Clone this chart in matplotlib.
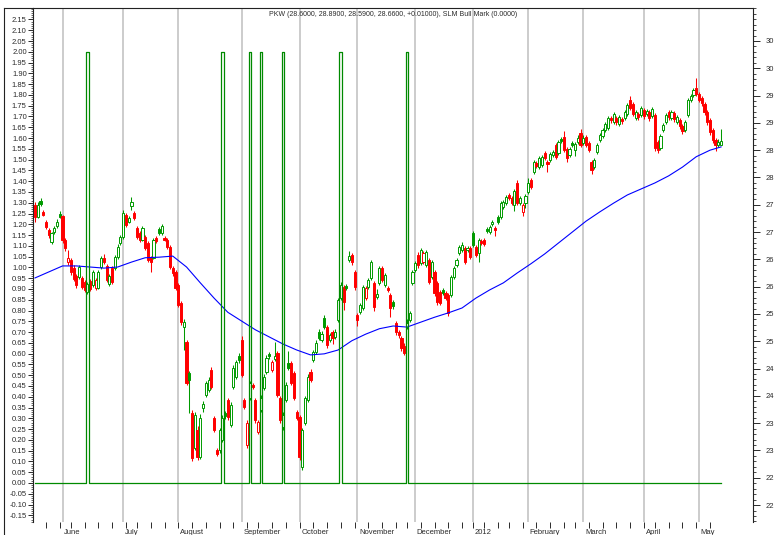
import matplotlib
matplotlib.use('Agg')
import matplotlib.pyplot as plt
import numpy as np
import pandas as pd
from matplotlib.lines import Line2D
from matplotlib.collections import LineCollection
from matplotlib.ticker import MultipleLocator, FixedLocator, FixedFormatter, NullFormatter
import matplotlib.transforms as mtransforms

plt.rcParams['font.family'] = ['Liberation Sans', 'DejaVu Sans']

# ---------------- data ----------------
start_date = '2011-05-17'
end_date = '2012-05-11'
holidays = ['2011-05-30', '2011-07-04', '2011-09-05', '2011-11-24', '2011-12-26',
            '2012-01-02', '2012-01-16', '2012-02-20', '2012-04-06']

opens = [
    27.50, 27.28, 27.57, 27.37, 27.19, 27.04, 26.82, 27.00, 27.11, 27.33,
    27.29, 26.86, 26.45, 26.49, 26.34, 26.20, 26.18, 26.16, 26.09, 25.90,
    26.10, 26.03, 25.98, 25.98, 26.36, 26.53, 26.38, 26.05, 26.34, 26.34,
    26.54, 26.80, 26.91, 27.31, 27.19, 27.48, 27.35, 27.08, 26.98, 26.86,
    26.91, 26.80, 26.54, 26.53, 26.89, 27.06, 26.98, 26.89, 26.86, 26.73,
    26.34, 26.27, 26.03, 25.70, 25.26, 24.99, 24.42, 23.69, 23.05, 23.38,
    22.88, 23.78, 24.02, 24.11, 24.47, 23.60, 23.01, 23.01, 23.19, 23.69,
    23.92, 23.47, 24.16, 24.35, 24.73, 25.02, 23.92, 23.10, 23.96, 24.20,
    23.92, 23.34, 23.74, 24.14, 24.44, 24.77, 24.47, 24.68, 24.79, 23.96,
    23.43, 23.92, 24.60, 24.60, 24.42, 23.70, 23.61, 22.70, 23.50, 23.92,
    24.44, 24.66, 24.80, 25.17, 25.02, 25.43, 25.26, 25.02, 25.17, 25.08,
    25.39, 25.79, 25.99, 26.01, 26.49, 26.58, 26.27, 25.48, 25.54, 25.61,
    25.79, 25.99, 26.16, 26.07, 25.81, 26.07, 26.34, 26.03, 25.98, 25.85,
    25.72, 25.34, 25.17, 25.06, 24.92, 25.26, 25.39, 26.07, 26.30, 26.58,
    26.43, 26.45, 26.40, 26.49, 26.18, 26.27, 26.07, 25.90, 25.94, 25.88,
    25.85, 25.85, 26.18, 26.40, 26.62, 26.67, 26.71, 26.67, 26.71, 26.98,
    26.73, 26.62, 26.84, 26.86, 27.06, 27.00, 27.15, 27.08, 27.28, 27.28,
    27.46, 27.53, 27.68, 27.62, 27.50, 27.90, 27.53, 27.37, 27.53, 27.73,
    27.95, 28.10, 28.27, 28.19, 28.23, 28.45, 28.28, 28.32, 28.41, 28.60,
    28.45, 28.71, 28.74, 28.52, 28.41, 28.63, 28.50, 28.65, 28.82, 28.63,
    28.74, 28.63, 28.28, 28.19, 28.47, 28.69, 28.76, 28.87, 28.91, 29.09,
    29.02, 29.09, 28.98, 29.07, 29.09, 29.16, 29.42, 29.35, 29.09, 29.16,
    29.14, 29.24, 29.16, 29.20, 29.13, 29.14, 28.65, 28.54, 28.87, 29.02,
    29.20, 29.09, 29.18, 29.02, 29.05, 28.94, 28.87, 29.14, 29.42, 29.51,
    29.64, 29.53, 29.46, 29.35, 29.20, 29.05, 28.87, 28.69, 28.60, 28.60,
]
highs = [
    27.55, 27.55, 27.62, 27.40, 27.22, 27.08, 27.01, 27.12, 27.24, 27.38,
    27.31, 26.90, 26.68, 26.52, 26.40, 26.24, 26.40, 26.20, 26.12, 26.08,
    26.14, 26.30, 26.16, 26.30, 26.57, 26.60, 26.42, 26.24, 26.38, 26.58,
    26.78, 26.95, 27.40, 27.35, 27.30, 27.64, 27.38, 27.12, 27.02, 27.12,
    26.94, 26.83, 26.57, 26.90, 26.93, 27.10, 27.15, 26.92, 26.89, 26.77,
    26.38, 26.31, 26.06, 25.74, 25.40, 25.03, 24.46, 23.74, 23.70, 23.44,
    23.66, 23.90, 24.28, 24.34, 24.52, 23.64, 23.05, 23.42, 23.65, 23.73,
    23.96, 23.88, 24.56, 24.66, 24.78, 25.10, 23.96, 23.55, 24.28, 24.24,
    23.96, 23.56, 24.01, 24.40, 24.74, 24.80, 24.66, 24.98, 24.83, 24.00,
    23.70, 24.25, 24.82, 24.64, 24.46, 23.74, 23.65, 23.42, 24.00, 24.40,
    24.50, 24.84, 25.02, 25.22, 25.18, 25.48, 25.30, 25.16, 25.20, 25.22,
    25.80, 26.08, 26.03, 26.05, 26.66, 26.62, 26.31, 25.52, 25.70, 26.03,
    26.02, 26.16, 26.49, 26.11, 25.95, 26.38, 26.38, 26.25, 26.02, 25.89,
    25.76, 25.38, 25.21, 25.10, 24.96, 25.40, 25.56, 26.31, 26.47, 26.64,
    26.71, 26.66, 26.68, 26.53, 26.49, 26.31, 26.11, 25.94, 25.98, 25.92,
    25.89, 26.22, 26.38, 26.53, 26.77, 26.82, 26.75, 26.75, 26.75, 27.02,
    26.77, 26.90, 26.88, 26.90, 27.10, 27.13, 27.23, 27.12, 27.32, 27.57,
    27.59, 27.68, 27.72, 27.66, 27.79, 27.95, 27.66, 27.54, 27.70, 27.99,
    27.99, 28.32, 28.31, 28.40, 28.42, 28.49, 28.32, 28.47, 28.51, 28.64,
    28.69, 28.75, 28.86, 28.56, 28.56, 28.67, 28.65, 28.77, 28.88, 28.77,
    28.78, 28.67, 28.32, 28.36, 28.64, 28.82, 28.91, 29.02, 29.13, 29.13,
    29.20, 29.13, 29.15, 29.11, 29.24, 29.37, 29.50, 29.39, 29.24, 29.20,
    29.31, 29.28, 29.26, 29.24, 29.29, 29.18, 28.69, 28.80, 29.00, 29.18,
    29.24, 29.24, 29.22, 29.15, 29.09, 28.98, 29.06, 29.46, 29.53, 29.64,
    29.82, 29.57, 29.50, 29.39, 29.24, 29.09, 28.91, 28.73, 28.70, 28.89,
]
lows = [
    27.19, 27.25, 27.48, 27.29, 27.05, 26.90, 26.78, 26.97, 27.08, 27.25,
    26.80, 26.66, 26.40, 26.22, 26.10, 25.98, 26.14, 25.95, 25.90, 25.86,
    25.92, 25.99, 25.94, 25.95, 26.33, 26.42, 26.08, 26.01, 26.05, 26.30,
    26.50, 26.77, 26.88, 27.10, 27.16, 27.40, 27.22, 26.88, 26.82, 26.83,
    26.67, 26.45, 26.27, 26.50, 26.80, 26.95, 26.95, 26.83, 26.69, 26.32,
    26.20, 25.93, 25.62, 25.30, 24.84, 24.20, 23.69, 22.80, 23.00, 22.82,
    22.84, 23.70, 23.98, 24.07, 24.12, 23.33, 22.90, 22.96, 23.15, 23.58,
    23.56, 23.43, 24.12, 24.31, 24.60, 24.34, 23.76, 23.05, 23.92, 24.12,
    23.50, 23.30, 23.70, 24.10, 24.40, 24.68, 24.43, 24.64, 23.98, 23.50,
    23.38, 23.88, 24.47, 24.20, 23.92, 23.55, 22.82, 22.64, 23.46, 23.88,
    24.25, 24.62, 24.76, 25.02, 24.98, 25.22, 24.88, 24.98, 24.95, 25.04,
    25.35, 25.75, 25.58, 25.94, 26.45, 26.40, 25.94, 25.28, 25.50, 25.57,
    25.75, 25.95, 26.12, 25.55, 25.77, 26.03, 26.08, 25.99, 25.90, 25.45,
    25.60, 25.12, 25.06, 24.83, 24.74, 25.22, 25.35, 26.03, 26.26, 26.35,
    26.39, 26.41, 26.36, 26.04, 26.14, 25.83, 25.67, 25.66, 25.84, 25.75,
    25.47, 25.81, 26.14, 26.36, 26.58, 26.63, 26.41, 26.63, 26.50, 26.72,
    26.54, 26.45, 26.76, 26.74, 26.98, 26.96, 27.11, 26.92, 27.15, 27.24,
    27.42, 27.49, 27.58, 27.49, 27.38, 27.49, 27.49, 27.30, 27.44, 27.70,
    27.79, 28.06, 28.17, 28.15, 28.19, 28.32, 28.10, 28.28, 28.37, 28.34,
    28.41, 28.63, 28.46, 28.28, 28.37, 28.56, 28.40, 28.61, 28.56, 28.59,
    28.56, 28.46, 28.06, 28.15, 28.43, 28.65, 28.72, 28.83, 28.87, 29.00,
    28.98, 28.97, 28.94, 28.98, 29.05, 29.12, 29.23, 29.12, 29.05, 29.06,
    29.10, 29.08, 29.12, 29.04, 29.09, 28.48, 28.45, 28.50, 28.83, 28.98,
    29.06, 29.05, 29.02, 28.98, 28.89, 28.80, 28.83, 29.10, 29.38, 29.47,
    29.49, 29.38, 29.31, 29.15, 28.97, 28.78, 28.64, 28.48, 28.56, 28.59,
]
closes = [
    27.28, 27.50, 27.51, 27.31, 27.09, 26.95, 26.98, 27.08, 27.19, 27.28,
    26.86, 26.71, 26.53, 26.27, 26.14, 26.03, 26.36, 25.99, 25.94, 26.05,
    25.96, 26.27, 26.12, 26.27, 26.53, 26.45, 26.12, 26.20, 26.09, 26.54,
    26.73, 26.91, 27.35, 27.13, 27.26, 27.55, 27.26, 26.91, 26.86, 27.08,
    26.71, 26.49, 26.45, 26.86, 26.84, 26.98, 27.11, 26.86, 26.73, 26.36,
    26.25, 25.98, 25.66, 25.35, 25.35, 24.24, 24.29, 22.86, 23.65, 22.88,
    23.60, 23.85, 24.24, 24.29, 24.16, 23.38, 22.94, 23.38, 23.60, 23.63,
    23.61, 23.83, 24.51, 24.62, 24.66, 24.38, 23.80, 23.50, 24.24, 24.16,
    23.56, 23.52, 23.97, 24.35, 24.69, 24.73, 24.62, 24.73, 24.02, 23.56,
    23.65, 24.20, 24.51, 24.24, 23.96, 23.60, 22.88, 23.38, 23.96, 24.35,
    24.29, 24.80, 24.97, 25.06, 25.13, 25.26, 24.93, 25.11, 25.06, 25.17,
    25.76, 26.03, 25.72, 25.98, 26.56, 26.45, 25.99, 25.39, 25.66, 25.99,
    25.98, 26.12, 26.45, 25.63, 25.87, 26.34, 26.12, 26.21, 25.94, 25.61,
    25.65, 25.17, 25.11, 24.88, 24.79, 25.34, 25.52, 26.27, 26.43, 26.40,
    26.67, 26.62, 26.64, 26.09, 26.45, 25.88, 25.72, 25.70, 25.88, 25.79,
    25.52, 26.18, 26.34, 26.49, 26.73, 26.76, 26.45, 26.71, 26.54, 26.76,
    26.58, 26.86, 26.80, 26.78, 27.02, 27.09, 27.19, 27.04, 27.19, 27.53,
    27.55, 27.64, 27.62, 27.53, 27.75, 27.53, 27.62, 27.50, 27.66, 27.90,
    27.83, 28.28, 28.21, 28.36, 28.38, 28.36, 28.25, 28.43, 28.47, 28.38,
    28.65, 28.67, 28.50, 28.36, 28.52, 28.60, 28.61, 28.73, 28.60, 28.73,
    28.60, 28.50, 28.14, 28.32, 28.60, 28.78, 28.87, 28.98, 29.09, 29.05,
    29.16, 29.02, 29.11, 29.03, 29.20, 29.33, 29.27, 29.16, 29.20, 29.11,
    29.27, 29.13, 29.22, 29.09, 29.25, 28.54, 28.50, 28.76, 28.96, 29.14,
    29.11, 29.20, 29.07, 29.11, 28.94, 28.85, 29.02, 29.42, 29.49, 29.60,
    29.53, 29.42, 29.36, 29.20, 29.02, 28.83, 28.69, 28.60, 28.65, 28.66,
]

ma_days = [0, 5, 10, 15, 20, 25, 30, 35, 40, 45, 50, 55, 60, 65, 70, 75, 80, 85,
           90, 95, 100, 105, 110, 115, 120, 125, 130, 135, 140, 145, 150, 155,
           160, 165, 170, 175, 180, 185, 190, 195, 200, 205, 210, 215, 220, 225,
           230, 235, 240, 245, 249]
ma_values = [26.16, 26.27, 26.38, 26.38, 26.36, 26.34, 26.36, 26.45, 26.53, 26.54,
             26.56, 26.36, 26.07, 25.79, 25.53, 25.37, 25.21, 25.08, 24.95, 24.84,
             24.75, 24.77, 24.84, 25.01, 25.13, 25.23, 25.28, 25.26, 25.35, 25.44,
             25.52, 25.61, 25.79, 25.94, 26.07, 26.25, 26.42, 26.60, 26.80, 27.00,
             27.20, 27.37, 27.53, 27.68, 27.79, 27.90, 28.03, 28.19, 28.38, 28.50,
             28.56]

bull_days = [19, 68, 78, 82, 90, 111, 135]
bull_level = 2.0

month_names = {6: 'June', 7: 'July', 8: 'August', 9: 'September', 10: 'October',
               11: 'November', 12: 'December', 1: '2012', 2: 'February',
               3: 'March', 4: 'April', 5: 'May'}
title_text = 'PKW (28.6000, 28.8900, 28.5900, 28.6600, +0.01000), SLM Bull Mark (0.0000)'

# ---------------- derived index ----------------
dates = pd.bdate_range(start_date, end_date)
dates = dates[~dates.isin(pd.to_datetime(holidays))]
n = len(closes)
dates = dates[:n]
xs = np.arange(n)

month_starts = [i for i in range(1, len(dates)) if dates[i].month != dates[i - 1].month]
week_starts = [i for i in range(1, len(dates)) if dates[i].weekday() < dates[i - 1].weekday()]

# ---------------- figure ----------------
W, H = 775, 535
L_px, R_px, T_px, B_px = 33, 753, 8, 522
fig = plt.figure(figsize=(W / 100, H / 100), dpi=100)
fig.patch.set_facecolor('white')
ax = fig.add_axes([L_px / W, 1 - B_px / H, (R_px - L_px) / W, (B_px - T_px) / H])
axl = ax.twinx()

txt_color = '#2a2a2a'
green = '#009a00'
red = '#ff0000'

ax.set_xlim(-0.73, 260.6)
ax.set_ylim(21.69, 31.104)
axl.set_ylim(-0.1809, 2.2032)

# month grid lines
for m in month_starts:
    ax.axvline(m, color='#c4c4c4', lw=1.2, zorder=0)

# candles
wick_segs, wick_cols = [], []
bottoms, heights, faces, edges = [], [], [], []
for i in range(n):
    o, h, l, c = opens[i], highs[i], lows[i], closes[i]
    ref = closes[i - 1] if i > 0 else o
    col = green if c >= ref else red
    top, bot = max(o, c), min(o, c)
    wick_segs.append([(i, h), (i, top)])
    wick_segs.append([(i, bot), (i, l)])
    wick_cols += [col, col]
    bottoms.append(bot)
    heights.append(max(top - bot, 0.015))
    faces.append('white' if c > o else col)
    edges.append(col)

ax.add_collection(LineCollection(wick_segs, colors=wick_cols, linewidths=0.75, zorder=2))
ax.bar(xs, heights, bottom=bottoms, width=0.78, color=faces, edgecolor=edges,
       linewidth=0.7, zorder=3)

# moving average
ax.plot(ma_days, ma_values, color='#0000ff', lw=0.8, zorder=4)

# bull mark indicator (left axis)
bull = np.zeros(n)
bull[bull_days] = bull_level
axl.plot(xs, bull, color='#008a00', lw=0.9, drawstyle='steps-mid', zorder=5)

# ---------------- axes styling ----------------
for sp in axl.spines.values():
    sp.set_visible(False)
for name, sp in ax.spines.items():
    sp.set_color('#222222')
    sp.set_linewidth(0.8)
ax.spines['bottom'].set_visible(False)

# right (price) axis
ax.yaxis.tick_right()
p_ticks = [22.0 + 0.5 * k for k in range(18)]
ax.yaxis.set_major_locator(FixedLocator(p_ticks))
ax.yaxis.set_major_formatter(FixedFormatter([str(int(v)) for v in p_ticks]))
ax.yaxis.set_minor_locator(MultipleLocator(0.1))
ax.tick_params(axis='y', which='major', direction='out', length=5, width=0.7,
               pad=4, labelsize=5.5, colors=txt_color)
ax.tick_params(axis='y', which='minor', direction='out', length=2.5, width=0.6,
               colors=txt_color)

# left (indicator) axis
axl.yaxis.tick_left()
l_ticks = [round(k * 0.05, 2) for k in range(-3, 44)]
l_labels = ['%.2f' % (0.0 if abs(v) < 1e-9 else v) for v in l_ticks]
axl.yaxis.set_major_locator(FixedLocator(l_ticks))
axl.yaxis.set_major_formatter(FixedFormatter(l_labels))
axl.yaxis.set_minor_locator(MultipleLocator(0.01))
axl.tick_params(axis='y', which='major', direction='out', length=3.5, width=0.7,
                pad=1, labelsize=5.5, colors=txt_color)
axl.tick_params(axis='y', which='minor', direction='out', length=1.8, width=0.5,
                colors=txt_color)

# x axis
ax.xaxis.set_major_locator(FixedLocator(week_starts))
ax.xaxis.set_major_formatter(NullFormatter())
ax.tick_params(axis='x', which='major', direction='out', length=4, width=0.7,
               colors=txt_color)

blend = mtransforms.blended_transform_factory(ax.transData, ax.transAxes)
for m in month_starts:
    ax.text(m + 0.6, -6.5 / (B_px - T_px), month_names[dates[m].month], transform=blend,
            ha='left', va='top', fontsize=5.5, color=txt_color, clip_on=False)

ax.text(0.5, 1 - 7 / (B_px - T_px), title_text, transform=ax.transAxes,
        ha='center', va='center', fontsize=5, color=txt_color)

# outer frame
fig.add_artist(Line2D([4 / W, 4 / W], [0, 1 - T_px / H], transform=fig.transFigure,
                      color='#222222', lw=0.8))
fig.add_artist(Line2D([4 / W, L_px / W], [1 - T_px / H, 1 - T_px / H],
                      transform=fig.transFigure, color='#222222', lw=0.8))

fig.savefig('out.png', dpi=100, facecolor='white')
